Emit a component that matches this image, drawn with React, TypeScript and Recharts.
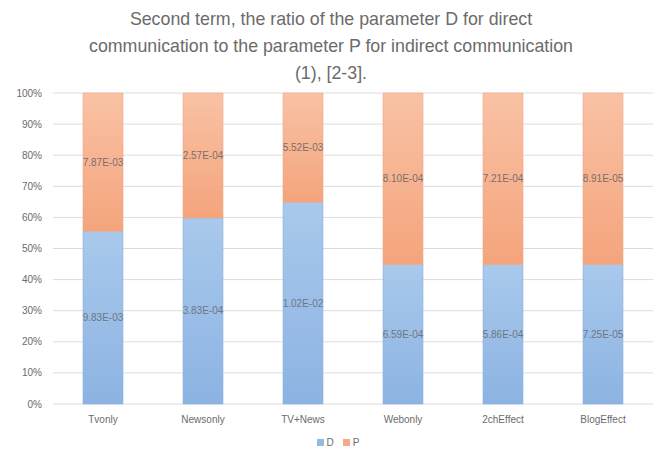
import React from "react";
import { BarChart, Bar, XAxis, YAxis, CartesianGrid, LabelList } from "recharts";

const categories = ["Tvonly", "Newsonly", "TV+News", "Webonly", "2chEffect", "BlogEffect"];
const dValues = [9.83e-3, 3.83e-4, 1.02e-2, 6.59e-4, 5.86e-4, 7.25e-5];
const pValues = [7.87e-3, 2.57e-4, 5.52e-3, 8.1e-4, 7.21e-4, 8.91e-5];
const yTicks = [0, 0.1, 0.2, 0.3, 0.4, 0.5, 0.6, 0.7, 0.8, 0.9, 1];
const titleLines = [
  "Second term, the ratio of the parameter D for direct",
  "communication to the parameter P for indirect communication",
  "(1), [2-3].",
];

const data = categories.map((c, i) => ({ name: c, D: dValues[i], P: pValues[i] }));

const fmt = (v: any) => {
  const n = Number(v);
  const [m, e] = n.toExponential(2).split("e");
  const ei = parseInt(e, 10);
  const sign = ei < 0 ? "-" : "+";
  const abs = Math.abs(ei).toString().padStart(2, "0");
  return `${m}E${sign}${abs}`;
};

const FONT = "'Liberation Sans', Arial, sans-serif";
const TEXT = "#6b6b6b";

const LegendContent = () => (
  <div
    style={{
      display: "flex",
      justifyContent: "center",
      alignItems: "center",
      fontFamily: FONT,
      fontSize: 10,
      color: TEXT,
      gap: 3,
      paddingLeft: 14,
    }}
  >
    <span style={{ width: 7, height: 7, background: "#93b9e4", display: "inline-block" }} />
    <span style={{ marginRight: 6 }}>D</span>
    <span style={{ width: 7, height: 7, background: "#f5aa84", display: "inline-block" }} />
    <span>P</span>
  </div>
);

export default function App() {
  return (
    <div style={{ position: "absolute", left: 0, top: 0, width: 662, height: 455, background: "#fff", overflow: "hidden" }}>
      <svg width={0} height={0} style={{ position: "absolute" }}>
        <defs>
          <linearGradient id="gradD" x1="0" y1="0" x2="0" y2="1">
            <stop offset="0%" stopColor="#a9c9ec" />
            <stop offset="100%" stopColor="#8cb3e2" />
          </linearGradient>
          <linearGradient id="gradP" x1="0" y1="0" x2="0" y2="1">
            <stop offset="0%" stopColor="#f9c2a5" />
            <stop offset="100%" stopColor="#f4a47c" />
          </linearGradient>
        </defs>
      </svg>
      <div
        style={{
          position: "absolute",
          left: 0,
          top: 6,
          width: 662,
          textAlign: "center",
          fontFamily: FONT,
          fontSize: 17.8,
          lineHeight: "27px",
          color: TEXT,
        }}
      >
        {titleLines.map((t, i) => (
          <div key={i}>{t}</div>
        ))}
      </div>
      <div style={{ position: "absolute", left: 0, top: 0 }}>
        <BarChart
          width={662}
          height={455}
          data={data}
          stackOffset="expand"
          barCategoryGap="30%"
          margin={{ top: 93, right: 9, bottom: 23, left: 8 }}
        >
          <CartesianGrid vertical={false} stroke="#dcdcdc" />
          <XAxis
            dataKey="name"
            axisLine={false}
            tickLine={false}
            height={28}
            tickMargin={6}
            tick={{ fontFamily: FONT, fontSize: 10, fill: TEXT }}
            interval={0}
          />
          <YAxis
            width={45}
            ticks={yTicks}
            domain={[0, 1]}
            axisLine={false}
            tickLine={false}
            tickMargin={5}
            tickFormatter={(v: number) => `${Math.round(v * 100)}%`}
            tick={{ fontFamily: FONT, fontSize: 10, fill: TEXT }}
            interval={0}
          />
          <Bar dataKey="D" stackId="a" fill="url(#gradD)" stroke="#8fb4df" strokeWidth={0.6} isAnimationActive={false}>
            <LabelList dataKey="D" position="center" formatter={fmt} style={{ fontFamily: FONT, fontSize: 10, fill: "#6f7680" }} />
          </Bar>
          <Bar dataKey="P" stackId="a" fill="url(#gradP)" stroke="#f2a983" strokeWidth={0.6} isAnimationActive={false}>
            <LabelList dataKey="P" position="center" formatter={fmt} style={{ fontFamily: FONT, fontSize: 10, fill: "#7a6f6a" }} />
          </Bar>
        </BarChart>
      </div>
      <div style={{ position: "absolute", left: 0, top: 437, width: 662 }}>
        <LegendContent />
      </div>
    </div>
  );
}
